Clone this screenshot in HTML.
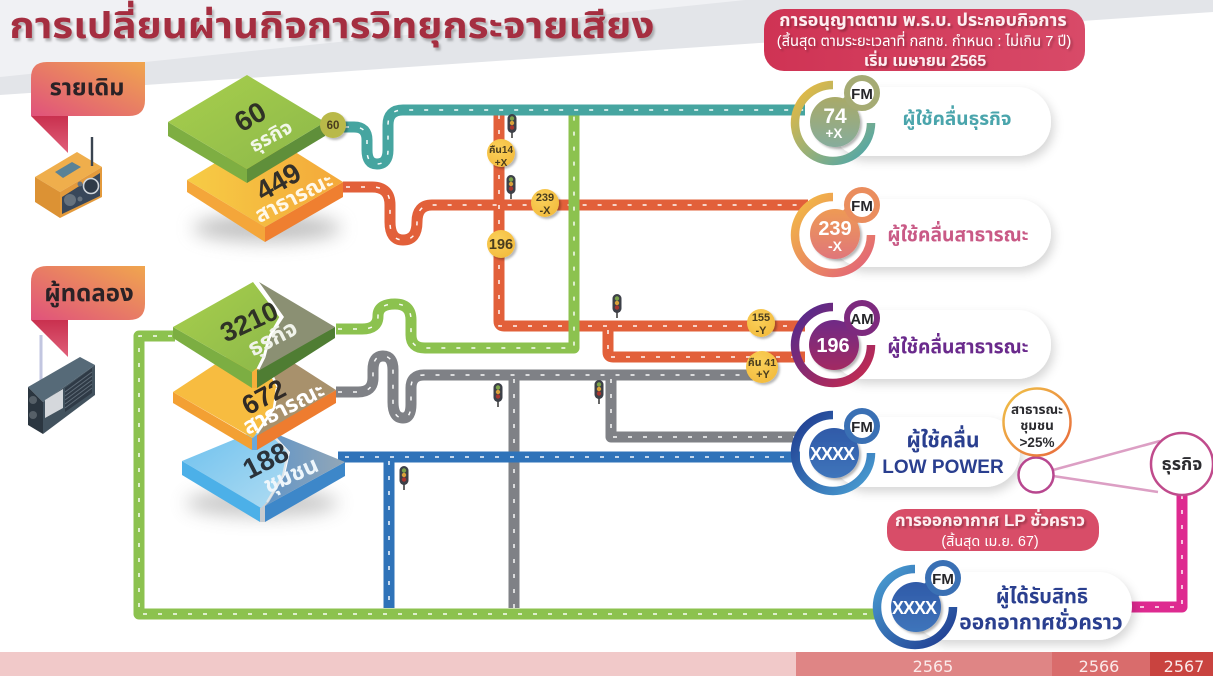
<!DOCTYPE html>
<html lang="th"><head><meta charset="utf-8">
<style>
html,body{margin:0;padding:0;background:#fff;width:1213px;height:676px;overflow:hidden}
svg{display:block}
text{font-family:"Liberation Sans","Noto Sans Thai","Noto Sans CJK SC","DejaVu Sans",sans-serif;text-anchor:middle}
.d{fill:none;stroke:#fff;stroke-width:1.5;stroke-dasharray:4 11;opacity:.95}
.r{fill:none;stroke-width:11;stroke-linejoin:round}
.w{fill:#fff;font-weight:700}
</style></head><body>
<svg width="1213" height="676" viewBox="0 0 1213 676" xmlns="http://www.w3.org/2000/svg">
<defs>
<linearGradient id="bub" x1="0" y1="1" x2="1" y2="0"><stop offset="0" stop-color="#e0527c"/><stop offset="1" stop-color="#f0a64e"/></linearGradient>
<linearGradient id="tail" x1="0" y1="0" x2="0" y2="1"><stop offset="0" stop-color="#c9304e"/><stop offset="1" stop-color="#e0607a"/></linearGradient>
<linearGradient id="g1t" x1="0" y1="0" x2="1" y2="1"><stop offset="0" stop-color="#a8cf4c"/><stop offset="1" stop-color="#8cb84a"/></linearGradient>
<linearGradient id="y1t" x1="0" y1="0" x2="1" y2="0"><stop offset="0" stop-color="#f6cc45"/><stop offset="1" stop-color="#f4a83a"/></linearGradient>
<linearGradient id="bl1" x1="0" y1="0" x2="1" y2="1"><stop offset="0" stop-color="#6cc0ee"/><stop offset="1" stop-color="#b0dcf2"/></linearGradient>
<linearGradient id="bl2" x1="0" y1="0" x2="1" y2="0"><stop offset="0" stop-color="#5f94c8"/><stop offset="1" stop-color="#93a7b7"/></linearGradient>
<linearGradient id="rt1" x1="0" y1="0" x2="1" y2="1"><stop offset="0" stop-color="#f0bb3c"/><stop offset="1" stop-color="#48a6ae"/></linearGradient>
<linearGradient id="rt2" x1="0" y1="0" x2="1" y2="1"><stop offset="0" stop-color="#f3bd42"/><stop offset="1" stop-color="#e2607a"/></linearGradient>
<linearGradient id="rt3" x1="0" y1="0" x2="1" y2="1"><stop offset="0" stop-color="#4d2a90"/><stop offset="1" stop-color="#c92a4e"/></linearGradient>
<linearGradient id="rt4" x1="0" y1="0" x2="1" y2="1"><stop offset="0" stop-color="#1f3a8f"/><stop offset="1" stop-color="#4aa0d4"/></linearGradient>
<linearGradient id="rt5" x1="0" y1="0" x2="1" y2="1"><stop offset="0" stop-color="#4aa0d4"/><stop offset="1" stop-color="#1f3a8f"/></linearGradient>
<linearGradient id="b1" x1="0" y1="0" x2="0" y2="1"><stop offset="0" stop-color="#a9aa68"/><stop offset="1" stop-color="#86ac9c"/></linearGradient>
<linearGradient id="b2" x1="0" y1="0" x2="0" y2="1"><stop offset="0" stop-color="#ee9a55"/><stop offset="1" stop-color="#e0767a"/></linearGradient>
<linearGradient id="b3" x1="0" y1="0" x2="0" y2="1"><stop offset="0" stop-color="#6f2a86"/><stop offset="1" stop-color="#a32a62"/></linearGradient>
<linearGradient id="b4" x1="0" y1="0" x2="0" y2="1"><stop offset="0" stop-color="#2f5aa8"/><stop offset="1" stop-color="#3f75bb"/></linearGradient>
<radialGradient id="yb" cx=".4" cy=".35" r=".8"><stop offset="0" stop-color="#fad05a"/><stop offset="1" stop-color="#f2b93a"/></radialGradient>
<linearGradient id="pill" x1="0" y1="0" x2="1" y2="0"><stop offset="0" stop-color="#cf3354"/><stop offset="1" stop-color="#d84a68"/></linearGradient>
<linearGradient id="cr" x1="0" y1="0" x2="1" y2="1"><stop offset="0" stop-color="#f0c448"/><stop offset="1" stop-color="#e8683c"/></linearGradient>
<filter id="sh" x="-20%" y="-30%" width="140%" height="170%"><feDropShadow dx="3" dy="5" stdDeviation="5" flood-color="#000" flood-opacity=".16"/></filter>
<filter id="sm" x="-30%" y="-30%" width="170%" height="170%"><feDropShadow dx="2" dy="2" stdDeviation="1" flood-color="#000" flood-opacity=".28"/></filter>
<filter id="bl" x="-40%" y="-200%" width="180%" height="500%"><feGaussianBlur stdDeviation="9"/></filter>
<filter id="ts" x="-5%" y="-20%" width="110%" height="150%"><feDropShadow dx="2" dy="3" stdDeviation="1" flood-color="#000" flood-opacity=".25"/></filter>
<g id="tl"><rect x="-1" y="8" width="2" height="7" fill="#666"/><rect x="-4.5" y="-9" width="9" height="19" rx="4.5" fill="#3d4048"/><circle cy="-4.5" r="2.2" fill="#7da34a"/><circle cy="0" r="2.2" fill="#d9a13b"/><circle cy="4.5" r="2.2" fill="#a8352f"/></g>
</defs>

<!-- background -->
<rect width="1213" height="676" fill="#fff"/>
<polygon points="0,0 1213,0 1213,12 0,95" fill="#e3e5e9"/>
<polygon points="0,0 745,0 0,77" fill="#f0f1f4"/>
<text x="332" y="38" font-size="36" font-weight="700" fill="#a52f40" filter="url(#ts)" textLength="645" lengthAdjust="spacingAndGlyphs">การเปลี่ยนผ่านกิจการวิทยุกระจายเสียง</text>

<!-- ROADS -->
<g id="roads">
<path class="r" stroke="#e2603a" d="M499 110V321Q499 326 504 326H805"/>
<path class="r" stroke="#e2603a" d="M608 326V352Q608 357 613 357H805"/>
<path class="r" stroke="#e2603a" d="M343 187H372Q390 187 390 205V222Q390 240 403 240Q417 240 417 222Q417 205 432 205H808"/>
<path class="d" d="M499 115V326H800M608 330V357H800M346 187H372Q390 187 390 205V222Q390 240 403 240Q417 240 417 222Q417 205 432 205H805"/>
<path class="r" stroke="#8cc24f" d="M336 329H362Q378 329 378 316Q378 304 395 304Q411 304 411 320V335Q411 348 425 348H574V110"/>
<path class="d" d="M338 329H362Q378 329 378 316Q378 304 395 304Q411 304 411 320V335Q411 348 425 348H574V112"/>
<path class="r" stroke="#46a5a0" d="M338 127H354Q367 127 367 140V150Q367 164 377 164Q388 164 388 150V125Q388 110 403 110H805"/>
<path class="d" d="M345 127H354Q367 127 367 140V150Q367 164 377 164Q388 164 388 150V125Q388 110 403 110H805"/>
<path class="r" stroke="#7f8186" d="M514 375V608"/>
<path class="r" stroke="#7f8186" d="M611 375V437H800"/>
<path class="r" stroke="#7f8186" d="M336 392H358Q373 392 373 378V370Q373 356 383 356Q393 356 393 370V402Q393 418 403 418Q411 418 411 404V388Q411 375 424 375H760"/>
<path class="d" d="M514 379V608M611 379V437H800M338 392H358Q373 392 373 378V370Q373 356 383 356Q393 356 393 370V402Q393 418 403 418Q411 418 411 404V388Q411 375 424 375H760"/>
<path class="r" stroke="#2f73b9" d="M338 457H800M389 457V608"/>
<path class="d" d="M345 457H800M389 461V608"/>
<path class="r" stroke="#8cc24f" d="M175 336H139V614H880"/>
<path class="d" d="M172 336H139V614H880"/>
<path class="r" stroke="#de2a90" d="M1125 607H1182V490"/>
<path class="d" d="M1125 607H1182V490"/>
</g>

<!-- speech bubbles + radios -->
<polygon points="31,116 68,116 68,153" fill="url(#tail)"/>
<path d="M47 62H145V100Q145 116 129 116H31V78Q31 62 47 62Z" fill="url(#bub)"/>
<text x="87" y="95" font-size="23.5" font-weight="700" fill="#2a2226">รายเดิม</text>

<line x1="41" y1="335" x2="41" y2="388" stroke="#c2c6e0" stroke-width="3"/>
<polygon points="31,320 68,320 68,357" fill="url(#tail)"/>
<path d="M47 266H145V304Q145 320 129 320H31V282Q31 266 47 266Z" fill="url(#bub)"/>
<text x="89" y="301" font-size="24" font-weight="700" fill="#2a2226">ผู้ทดลอง</text>

<g>
<polygon points="35,177 77,152 102,167 60,192" fill="#efae4c"/>
<polygon points="35,177 60,192 60,218 35,202" fill="#dc9234"/>
<polygon points="60,192 102,167 102,197 60,218" fill="#e39a3c"/>
<polygon points="62,197 100,173 100,196 62,214" fill="#38475a"/>
<polygon points="55,172 72,162 81,167 63,178" fill="#5a8296"/>
<circle cx="91" cy="186" r="7.5" fill="#2e3a48" stroke="#d0d6dc" stroke-width="1.6"/>
<circle cx="70" cy="200" r="6" fill="#66727e"/>
<circle cx="80" cy="199" r="2.5" fill="#66727e"/><circle cx="80" cy="184" r="2.5" fill="#66727e"/>
<line x1="92" y1="137" x2="92" y2="166" stroke="#3a4450" stroke-width="2.4"/>
</g>
<g>
<polygon points="28,387 80,357 95,365 43,402" fill="#566a78"/>
<polygon points="28,387 43,402 43,434 28,425" fill="#2b3640"/>
<polygon points="43,402 95,365 95,395 43,434" fill="#42525e"/>
<polygon points="45,400 63,389 63,408 45,418" fill="#d5d8dc"/>
<polygon points="65,388 92,368 92,393 65,412" fill="#2f3a46"/>
<path d="M65 392L92 372M65 396L92 376M65 400L92 380M65 404L92 384M65 408L92 388" stroke="#5f6c78" stroke-width="1"/>
<circle cx="33" cy="400" r="4" fill="#566068"/><circle cx="33" cy="415" r="4" fill="#566068"/>
</g>

<!-- Blocks top group -->
<ellipse cx="267" cy="228" rx="74" ry="14" fill="#888" opacity=".5" filter="url(#bl)"/>
<polygon points="187,180 187,192 265,242 265,227" fill="#f4a63a"/>
<polygon points="265,227 265,242 343,197 343,182" fill="#ef7f30"/>
<polygon points="187,180 265,133 343,182 265,227" fill="url(#y1t)"/>
<polygon points="168,122 168,136 247,183 247,169" fill="#7eae42"/>
<polygon points="247,169 247,183 325,136 325,122" fill="#5f8f3a"/>
<polygon points="168,122 247,75 325,122 247,169" fill="url(#g1t)"/>
<text transform="translate(255,125) rotate(-30)" font-size="28" font-weight="700" fill="#2f3226">60</text>
<text transform="translate(274,142) rotate(-28)" font-size="20" font-weight="700" fill="#f2f7e8">ธุรกิจ</text>
<text transform="translate(283,190) rotate(-30)" font-size="28" font-weight="700" fill="#33302a">449</text>
<text transform="translate(297,204) rotate(-27)" font-size="22" font-weight="700" fill="#fff8e8">สาธารณะ</text>

<!-- Blocks bottom group -->
<ellipse cx="262" cy="503" rx="76" ry="14" fill="#888" opacity=".45" filter="url(#bl)"/>
<polygon points="182,461 182,475 260,522 262,508" fill="#4cb0e8"/>
<polygon points="265,506 265,522 345,476 345,462" fill="#3d87c9"/>
<polygon points="260,508 260,522 265,522 265,506" fill="#c8ccd0"/>
<polygon points="182,461 262,428 275,438 288,452 283,475 267,502 261,508" fill="url(#bl1)"/>
<polygon points="262,428 345,462 265,506 269,502 285,475 290,452 277,438" fill="url(#bl2)"/>
<polyline points="275,438 288,452 283,475 267,502" fill="none" stroke="#dfe6ea" stroke-width="2"/>

<polygon points="173,392 173,403 252,450 252,438" fill="#f3a033"/>
<polygon points="257,435 257,450 336,403 336,390" fill="#ee7c2f"/>
<polygon points="252,438 252,450 257,450 257,435" fill="#6aa8dc"/>
<polygon points="173,392 252,340 277,388 273,408 257,432 253,438" fill="#f7bc40"/>
<polygon points="258,340 336,390 257,436 275,408 279,388" fill="#a8916c"/>
<polyline points="277,388 274,408 257,433" fill="none" stroke="#fff" stroke-width="2.5"/>

<polygon points="173,327 173,338 252,388 252,372" fill="#7cae42"/>
<polygon points="257,370 257,388 335,338 335,327" fill="#4f7d33"/>
<polygon points="252,372 252,388 257,388 257,370" fill="#f6ae3a"/>
<polygon points="173,327 253,282 280,317 268,338 263,357 257,368 252,372" fill="url(#g1t)"/>
<polygon points="259,282 335,327 258,371 265,357 270,338 284,317" fill="#8b9073"/>
<polyline points="255,282 281,317 269,338 264,357 258,369" fill="none" stroke="#fff" stroke-width="3"/>

<text transform="translate(253,330) rotate(-25)" font-size="27" font-weight="700" fill="#2f3226">3210</text>
<text transform="translate(276,345) rotate(-27)" font-size="23" font-weight="700" fill="#f0f3ea">ธุรกิจ</text>
<text transform="translate(268,405) rotate(-28)" font-size="27" font-weight="700" fill="#302a26">672</text>
<text transform="translate(287,415) rotate(-27)" font-size="23" font-weight="700" fill="#fff">สาธารณะ</text>
<text transform="translate(270,469) rotate(-27)" font-size="28" font-weight="700" fill="#2a323a">188</text>
<text transform="translate(294,482) rotate(-24)" font-size="23" font-weight="700" fill="#eef6fb">ชุมชน</text>

<!-- Pills -->
<g filter="url(#sh)">
<rect x="830" y="87" width="221" height="69" rx="34" fill="#fff"/>
<rect x="830" y="199" width="221" height="68" rx="34" fill="#fff"/>
<rect x="830" y="310" width="221" height="69" rx="34" fill="#fff"/>
<rect x="830" y="417" width="190" height="70" rx="35" fill="#fff"/>
<rect x="912" y="572" width="220" height="68" rx="34" fill="#fff"/>
</g>

<!-- Icon 1 -->
<g>
<path d="M833 85A38 38 0 1 0 871 123" fill="none" stroke="url(#rt1)" stroke-width="8.5"/>
<line x1="835" y1="120" x2="862" y2="93" stroke="#a5ab74" stroke-width="19"/>
<circle cx="835" cy="122" r="25" fill="url(#b1)" filter="url(#sm)"/>
<circle cx="862" cy="93" r="15" fill="#fff" stroke="#a5ab74" stroke-width="6"/>
<text x="862" y="99" font-size="15" font-weight="700" fill="#26262a">FM</text>
<text class="w" x="835" y="123" font-size="21">74</text>
<text class="w" x="834" y="138" font-size="13.5">+X</text>
<text x="957" y="125" font-size="19" font-weight="700" fill="#4aa5ac">ผู้ใช้คลื่นธุรกิจ</text>
</g>
<!-- Icon 2 -->
<g>
<path d="M833 197A38 38 0 1 0 871 235" fill="none" stroke="url(#rt2)" stroke-width="8.5"/>
<line x1="835" y1="232" x2="862" y2="205" stroke="#ea8d5d" stroke-width="19"/>
<circle cx="835" cy="234" r="25" fill="url(#b2)" filter="url(#sm)"/>
<circle cx="862" cy="205" r="15" fill="#fff" stroke="#ea8d5d" stroke-width="6"/>
<text x="862" y="211" font-size="15" font-weight="700" fill="#26262a">FM</text>
<text class="w" x="835" y="235" font-size="20">239</text>
<text class="w" x="835" y="251" font-size="14">-X</text>
<text x="958" y="241" font-size="19.3" font-weight="700" fill="#c95a86">ผู้ใช้คลื่นสาธารณะ</text>
</g>
<!-- Icon 3 -->
<g>
<path d="M833 307A38 38 0 1 0 871 345" fill="none" stroke="url(#rt3)" stroke-width="8.5"/>
<line x1="835" y1="343" x2="862" y2="318" stroke="#7d2a7e" stroke-width="19"/>
<circle cx="834" cy="345" r="25" fill="url(#b3)" filter="url(#sm)"/>
<circle cx="862" cy="318" r="15" fill="#fff" stroke="#7d2a7e" stroke-width="6"/>
<text x="862" y="324" font-size="15" font-weight="700" fill="#26262a">AM</text>
<text class="w" x="833" y="352" font-size="20">196</text>
<text x="958" y="353" font-size="19.3" font-weight="700" fill="#6a2a8c">ผู้ใช้คลื่นสาธารณะ</text>
</g>
<!-- Icon 4 -->
<g>
<path d="M833 415A38 38 0 1 0 871 453" fill="none" stroke="url(#rt4)" stroke-width="8.5"/>
<line x1="835" y1="451" x2="862" y2="426" stroke="#3a70b4" stroke-width="19"/>
<circle cx="834" cy="453" r="25" fill="url(#b4)" filter="url(#sm)"/>
<circle cx="862" cy="426" r="15" fill="#fff" stroke="#3a70b4" stroke-width="6"/>
<text x="862" y="432" font-size="15" font-weight="700" fill="#26262a">FM</text>
<text class="w" x="832" y="460" font-size="18" letter-spacing="-1">XXXX</text>
<text x="943" y="447" font-size="21" font-weight="700" fill="#2a3f8f">ผู้ใช้คลื่น</text>
<text x="943" y="473" font-size="19" font-weight="700" fill="#2a3f8f">LOW POWER</text>
</g>
<!-- Icon 5 -->
<g>
<path d="M915 569A38 38 0 1 0 953 607" fill="none" stroke="url(#rt5)" stroke-width="8.5"/>
<line x1="917" y1="605" x2="943" y2="578" stroke="#3a70b4" stroke-width="19"/>
<circle cx="916" cy="607" r="25" fill="url(#b4)" filter="url(#sm)"/>
<circle cx="943" cy="578" r="15" fill="#fff" stroke="#3a70b4" stroke-width="6"/>
<text x="943" y="584" font-size="15" font-weight="700" fill="#26262a">FM</text>
<text class="w" x="914" y="614" font-size="18" letter-spacing="-1">XXXX</text>
<text x="1042" y="603" font-size="20" font-weight="700" fill="#2a3f8f">ผู้ได้รับสิทธิ</text>
<text x="1041" y="629" font-size="21" font-weight="700" fill="#2a3f8f">ออกอากาศชั่วคราว</text>
</g>

<!-- circles right -->
<line x1="1053" y1="470" x2="1160" y2="441" stroke="#dc9fc4" stroke-width="2.6"/>
<line x1="1053" y1="476" x2="1158" y2="492" stroke="#dc9fc4" stroke-width="2.6"/>
<circle cx="1036" cy="475" r="17.5" fill="#fff" stroke="#b8478f" stroke-width="2.5"/>
<circle cx="1182" cy="464" r="31" fill="#fff" stroke="#c04b8c" stroke-width="2.5"/>
<text x="1182" y="470" font-size="18" font-weight="700" fill="#2c2c30">ธุรกิจ</text>
<circle cx="1037" cy="422" r="33.5" fill="#fff" stroke="url(#cr)" stroke-width="2.5"/>
<text x="1037" y="414" font-size="13.5" font-weight="700" fill="#2c2c30">สาธารณะ</text>
<text x="1037" y="430" font-size="13.5" font-weight="700" fill="#2c2c30">ชุมชน</text>
<text x="1037" y="447" font-size="13.5" font-weight="700" fill="#2c2c30">&gt;25%</text>

<!-- Red pills -->
<rect x="764" y="9" width="321" height="62" rx="20" fill="url(#pill)"/>
<text x="923" y="26" font-size="18" font-weight="700" fill="#fdeef0" filter="url(#sm)">การอนุญาตตาม พ.ร.บ. ประกอบกิจการ</text>
<text x="924" y="46" font-size="14.7" fill="#fff" filter="url(#sm)">(สิ้นสุด ตามระยะเวลาที่ กสทช. กำหนด : ไม่เกิน 7 ปี)</text>
<text x="925" y="66" font-size="16" font-weight="700" fill="#fdeef0" filter="url(#sm)">เริ่ม เมษายน 2565</text>
<rect x="887" y="509" width="212" height="42" rx="18" fill="#d84d68"/>
<text x="990" y="526" font-size="17" font-weight="700" fill="#fdeef0" filter="url(#sm)">การออกอากาศ LP ชั่วคราว</text>
<text x="990" y="546" font-size="14.4" fill="#fff">(สิ้นสุด เม.ย. 67)</text>

<!-- badges -->
<g filter="url(#sm)">
<circle cx="333" cy="125" r="13" fill="#b9b94a"/>
<circle cx="501" cy="153" r="14" fill="url(#yb)"/>
<circle cx="545" cy="203" r="14" fill="url(#yb)"/>
<circle cx="501" cy="244" r="14" fill="url(#yb)"/>
<circle cx="761" cy="323" r="14" fill="url(#yb)"/>
<circle cx="762" cy="367" r="16" fill="url(#yb)"/>
</g>
<text x="333" y="129" font-size="11.5" font-weight="700" fill="#4a3d1e">60</text>
<text x="501" y="153" font-size="10" font-weight="700" fill="#4a3d1e">คืน14</text>
<text x="501" y="166" font-size="10" font-weight="700" fill="#4a3d1e">+X</text>
<text x="545" y="201" font-size="11" font-weight="700" fill="#4a3d1e">239</text>
<text x="545" y="214" font-size="11" font-weight="700" fill="#4a3d1e">-X</text>
<text x="501" y="249" font-size="14.5" font-weight="700" fill="#4a3d1e">196</text>
<text x="761" y="321" font-size="11" font-weight="700" fill="#4a3d1e">155</text>
<text x="761" y="334" font-size="11" font-weight="700" fill="#4a3d1e">-Y</text>
<text x="762" y="366" font-size="10.5" font-weight="700" fill="#4a3d1e">คืน 41</text>
<text x="763" y="378" font-size="11" font-weight="700" fill="#4a3d1e">+Y</text>

<!-- traffic lights -->
<use href="#tl" x="512" y="123"/><use href="#tl" x="511" y="184"/><use href="#tl" x="617" y="303"/>
<use href="#tl" x="498" y="392"/><use href="#tl" x="599" y="389"/><use href="#tl" x="404" y="475"/>

<!-- bottom bar -->
<rect x="0" y="652" width="796" height="24" fill="#f1c9c9"/>
<rect x="796" y="652" width="256" height="24" fill="#df8585"/>
<rect x="1052" y="652" width="98" height="24" fill="#d96c6c"/>
<rect x="1150" y="652" width="63" height="24" fill="#c9433f"/>
<g style="font-family:'DejaVu Sans',sans-serif">
<text x="933" y="672" font-size="16" fill="#fbeaea" style="font-family:'DejaVu Sans',sans-serif">2565</text>
<text x="1099" y="672" font-size="16" fill="#fbeaea" style="font-family:'DejaVu Sans',sans-serif">2566</text>
<text x="1184" y="672" font-size="16" fill="#fbeaea" style="font-family:'DejaVu Sans',sans-serif">2567</text>
</g>
</svg>
</body></html>
